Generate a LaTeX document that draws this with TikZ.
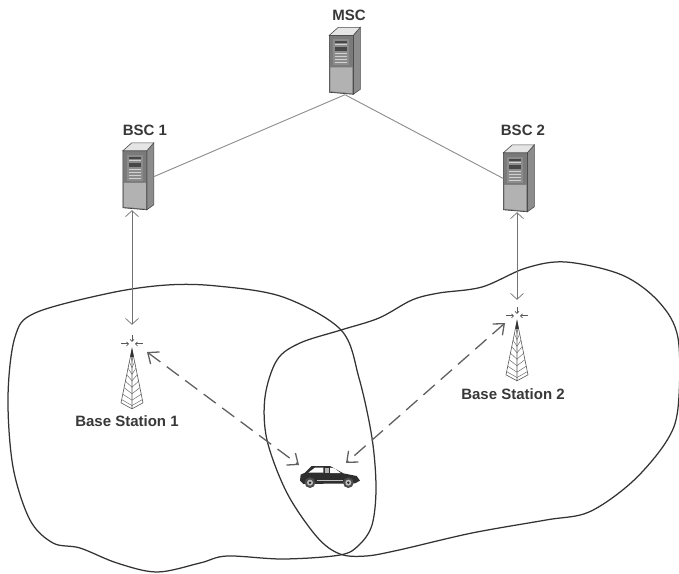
\documentclass[tikz,border=0pt]{standalone}
\usepackage{fontspec}
\setmainfont{Liberation Sans}
\usetikzlibrary{arrows.meta,calc}
\definecolor{inkc}{gray}{0.2}
\tikzset{
  x=1pt,y=-1pt,
  lbl/.style={font=\fontsize{15}{17}\selectfont\bfseries,text=black!78,inner sep=0pt},
  box/.style={inner sep=0pt,minimum width=31pt,minimum height=67pt},
  towerbox/.style={inner sep=0pt,minimum width=22pt,minimum height=74pt},
  carbox/.style={inner sep=0pt,minimum width=60pt,minimum height=24pt},
  cell/.style={draw=inkc,line width=1.25pt},
  link/.style={draw=black!45,line width=.9pt},
  uplink/.style={draw=black!55,line width=.7pt,{Straight Barb[length=6pt,width=13pt]}-{Straight Barb[length=6pt,width=13pt]}},
  radio/.style={draw=black!62,line width=1.3pt,dash pattern=on 15pt off 8pt,{Straight Barb[length=9pt,width=15pt]}-{Straight Barb[length=9pt,width=15pt]}},
  serverpic/.pic={
    \fill[black!45,draw=black!70,line width=.6pt] (24,8)--(31,0)--(31,62)--(24,67)--cycle;
    \fill[black!10,draw=black!70,line width=.6pt] (0,8)--(9,0)--(31,0)--(24,8)--cycle;
    \fill[black!52,draw=black!78,line width=.6pt] (0,8)--(24,8)--(24,67)--(0,65)--cycle;
    \fill[black!30] (1,40)--(23,40)--(23,66)--(1,64)--cycle;
    \fill[black!45] (4,12) rectangle (20,38);
    \fill[black!72] (6,14) rectangle (18,16);
    \fill[black!18] (6,17) rectangle (18,18);
    \fill[black!72] (6,20) rectangle (18,24);
    \foreach \yy in {26,29,32,35} \fill[black!18] (6,\yy) rectangle (18,\yy+1);
  },
  towerpic/.pic={
    \draw[black!65,line width=.6pt] (-11,68)--(0,14)--(11,68)--(0,74)--cycle (0,14)--(0,74);
    \foreach \f in {.12,.24,.36,.48,.6,.72,.84,.94}{
      \draw[black!60,line width=.45pt] ($(0,14)!\f!(-11,68)$)--($(0,20)!\f!(0,74)$)--($(0,14)!\f!(11,68)$);
    }
    \fill[black!80] (-1.7,22)--(0,13)--(1.7,22)--cycle;
    \draw[black!65,line width=.7pt,-{Straight Barb[length=2pt,width=4pt]}] (0,0)--(0,7);
    \draw[black!65,line width=.7pt,-{Straight Barb[length=2pt,width=4pt]}] (-11,9)--(-3,9);
    \draw[black!65,line width=.7pt,-{Straight Barb[length=2pt,width=4pt]}] (11,9)--(3,9);
  },
}
\begin{document}
\begin{tikzpicture}
\useasboundingbox[fill=white] (0,0) rectangle (679,573);
% coverage cells
\draw[cell] plot[smooth cycle,tension=.55] coordinates {(35,313)(110,293)(167,285)(217,286)(283,297)(341,330)(359,378)(372,438)(376,488)(372,525)(359,545)(340,555)(283,559)(227,556)(200,563)(157,572)(117,563)(80,548)(53,543)(30,520)(13,467)(8,397)(15,337)};
\draw[cell] plot[smooth cycle,tension=.55] coordinates {(341,330)(300,343)(277,360)(265,397)(267,440)(287,493)(317,537)(340,554)(366,556)(399,550)(472,533)(546,520)(589,512)(632,482)(666,442)(678,408)(678,338)(659,302)(622,275)(566,262)(526,268)(482,287)(439,293)(412,300)(379,318)};
% equipment
\node[box] (msc) at (345,61) {};
\node[box] (bsc1) at (138.5,176.5) {};
\node[box] (bsc2) at (519,178.5) {};
\node[towerbox] (bs1) at (132,372) {};
\node[towerbox] (bs2) at (517,344) {};
\node[carbox] (car) at (330,477) {};
\coordinate (bs1port) at (147,352);
\coordinate (bs2port) at (505,323);
\coordinate (carleft) at (299,465);
\coordinate (carright) at (346,463);
\pic at (msc.north west) {serverpic};
\pic at (bsc1.north west) {serverpic};
\pic at (bsc2.north west) {serverpic};
\pic at (bs1.north) {towerpic};
\pic at (bs2.north) {towerpic};
% car
\begin{scope}[shift={(280,440)},scale=1/3]
\fill[black!82] (60,122)--(62,104)--(75,98)--(95,78)--(150,78)--(190,100)--(230,108)--(240,122)--(225,130)--(70,132)--cycle;
\fill[white] (85,98)--(105,83)--(130,83)--(130,98)--cycle;
\fill[white] (150,83)--(163,85)--(182,99)--(150,99)--cycle;
\fill[black!30] (135,85) rectangle (147,99);
\fill[black!25] (110,120) rectangle (190,124);
\fill[black!70] (90,128) circle (16);
\fill[black!70] (205,128) circle (16);
\fill[black!25] (90,128) circle (9);
\fill[black!25] (205,128) circle (9);
\fill[black!85] (90,128) circle (4);
\fill[black!85] (205,128) circle (4);
\end{scope}
% links
\draw[link] (msc.south) -- (bsc1.east);
\draw[link] (msc.south) -- (bsc2.west);
\draw[uplink,shorten >=10pt] (bs1.north |- bsc1.south) -- (bs1.north);
\draw[uplink,shorten >=7pt] (bs2.north |- bsc2.south) -- (bs2.north);
\draw[radio] (bs1port) -- (carleft);
\draw[radio] (bs2port) -- (carright);
% labels
\node[lbl] (msclabel) at (349,15) {MSC};
\node[lbl] (bsc1label) at (145,130) {BSC 1};
\node[lbl] (bsc2label) at (523,130) {BSC 2};
\node[lbl] (bs1label) at (127,421) {Base Station 1};
\node[lbl] (bs2label) at (513,394) {Base Station 2};
\end{tikzpicture}
\end{document}
